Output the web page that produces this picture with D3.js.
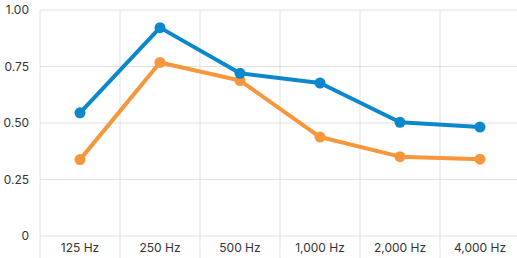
<!DOCTYPE html>
<html>
<head>
<meta charset="utf-8">
<script src="https://cdn.jsdelivr.net/npm/d3@7"></script>
<style>
  body { margin: 0; background: #fff; }
  text { font-family: Inter, "Liberation Sans", sans-serif; font-size: 12px; fill: #333; }
</style>
</head>
<body>
<script>
const width = 517
const height = 258
const margin = { top: 10, right: -3, bottom: 22, left: 40 }

const bands = ['125 Hz', '250 Hz', '500 Hz', '1,000 Hz', '2,000 Hz', '4,000 Hz']
const blue = [0.545, 0.922, 0.72, 0.677, 0.503, 0.482]
const orange = [0.338, 0.768, 0.688, 0.438, 0.351, 0.34]
const yTicks = [0, 0.25, 0.5, 0.75, 1]

const svg = d3.select('body').append('svg')
  .attr('width', width)
  .attr('height', height)

const x = d3.scaleBand()
  .domain(bands)
  .range([margin.left, width - margin.right])

const y = d3.scaleLinear()
  .domain([0, 1])
  .range([height - margin.bottom, margin.top])

// grid
svg.append('g')
  .selectAll('line')
  .data(yTicks)
  .enter().append('line')
  .attr('x1', margin.left)
  .attr('x2', width)
  .attr('y1', d => y(d))
  .attr('y2', d => y(d))
  .attr('stroke', '#e0e0e0')
  .attr('stroke-width', 1)

svg.append('g')
  .selectAll('line')
  .data(bands)
  .enter().append('line')
  .attr('x1', d => x(d))
  .attr('x2', d => x(d))
  .attr('y1', margin.top)
  .attr('y2', height)
  .attr('stroke', '#e0e0e0')
  .attr('stroke-width', 1)

// y labels
svg.append('g')
  .selectAll('text')
  .data(yTicks)
  .enter().append('text')
  .attr('x', 29)
  .attr('y', d => y(d))
  .attr('dy', '0.35em')
  .attr('text-anchor', 'end')
  .text(d => d === 0 ? '0' : d3.format('.2f')(d))

// x labels
svg.append('g')
  .selectAll('text')
  .data(bands)
  .enter().append('text')
  .attr('x', d => x(d) + x.bandwidth() / 2)
  .attr('y', 252)
  .attr('text-anchor', 'middle')
  .text(d => d)

const line = d3.line()
  .x((d, i) => x(bands[i]) + x.bandwidth() / 2)
  .y(d => y(d))

function series (values, color) {
  const g = svg.append('g')
  g.append('path')
    .datum(values)
    .attr('d', line)
    .attr('fill', 'none')
    .attr('stroke', color)
    .attr('stroke-width', 4)
    .attr('stroke-linejoin', 'round')
  g.selectAll('circle')
    .data(values)
    .enter().append('circle')
    .attr('cx', (d, i) => x(bands[i]) + x.bandwidth() / 2)
    .attr('cy', d => y(d))
    .attr('r', 5.5)
    .attr('fill', color)
}

series(orange, '#f7963b')
series(blue, '#0b87cc')
</script>
</body>
</html>
